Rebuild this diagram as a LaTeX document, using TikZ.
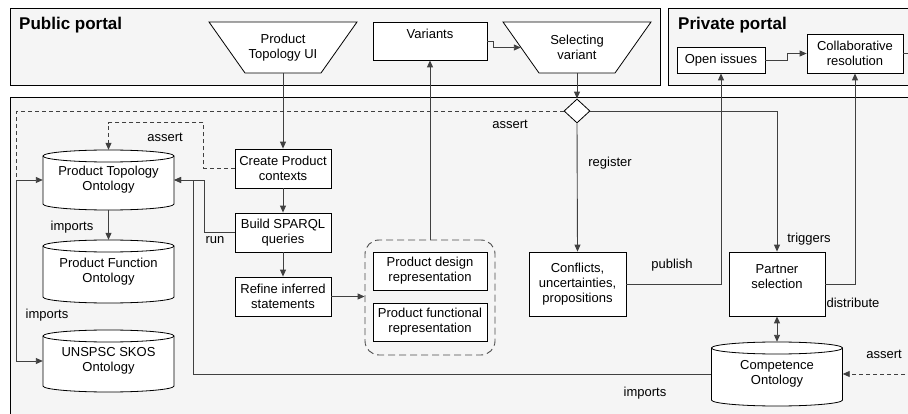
\documentclass[tikz,border=0pt]{standalone}
\usepackage{fontspec}
\setmainfont{Liberation Sans}
\usetikzlibrary{arrows.meta,shapes.geometric}

\tikzset{
  every node/.style={font=\fontsize{13}{15}\selectfont},
  portal/.style={draw=black, fill=black!4, line width=0.8pt},
  proc/.style={draw=black, fill=white, line width=0.8pt, align=center, inner sep=1pt},
  shapeline/.style={draw=black, fill=white, line width=0.8pt},
  shapetext/.style={align=center, inner sep=0pt, minimum width=148pt, minimum height=51pt},
  ontotext/.style={align=center, inner sep=0pt, minimum width=131pt},
  conn/.style={draw=black!75, line width=0.9pt},
  arr/.style={conn, -{Triangle[length=7pt,width=6pt]}},
  dashconn/.style={conn, dash pattern=on 4pt off 3pt},
  dasharr/.style={dashconn, -{Triangle[length=7pt,width=6pt]}},
  lbl/.style={inner sep=0pt},
  title/.style={anchor=west, inner sep=0pt, font=\bfseries\fontsize{17}{20}\selectfont},
}

% trapezoid UI step: name, x, y, text
\newcommand\trapnode[4]{%
  \filldraw[shapeline] (#2-74,#3-25.5) -- (#2+74,#3-25.5) -- (#2+38,#3+25.5) -- (#2-38,#3+25.5) -- cycle;
  \node[shapetext] (#1) at (#2,#3) {#4};
}
% ontology store: name, x, top, bottom, text
\newcommand\ontonode[5]{%
  \filldraw[shapeline] (#2-65.5,#3+6) -- (#2-65.5,#4-6)
    arc[start angle=180, end angle=360, x radius=65.5pt, y radius=6pt] -- (#2+65.5,#3+6)
    arc[start angle=0, end angle=180, x radius=65.5pt, y radius=6pt] -- cycle;
  \draw[shapeline, fill=none] (#2-65.5,#3+6) arc[start angle=180, end angle=360, x radius=65.5pt, y radius=6pt];
  \node[ontotext, minimum height=#4-#3] (#1) at (#2,{(#3+#4)/2}) {#5};
}

\begin{document}
\begin{tikzpicture}[x=1pt, y=-1pt]
  \useasboundingbox (0,0) rectangle (908,414);
  \clip (0,0) rectangle (908,414);

  % portals and the back end
  \draw[portal] (10,8) rectangle (660,85);
  \draw[portal] (668,8) rectangle (920,85);
  \draw[portal] (10,97) rectangle (920,420);
  \node[title] (pubttl) at (19,25) {Public portal};
  \node[title] (privttl) at (678,25) {Private portal};

  % public portal
  \trapnode{ui}{283}{47.5}{Product\\Topology UI}
  \trapnode{sel}{577}{47.5}{Selecting\\variant}
  \node[proc, minimum width=114pt, minimum height=38pt] (var) at (430,41) {Variants\\~};

  % private portal
  \node[proc, minimum width=88pt, minimum height=26pt] (open) at (721,60) {Open issues};
  \node[proc, minimum width=96pt, minimum height=39pt] (col) at (855,53.5) {Collaborative\\resolution};

  % processing steps
  \node[proc, minimum width=96pt, minimum height=39pt] (cpc) at (283,168.5) {Create Product\\contexts};
  \node[proc, minimum width=96pt, minimum height=39pt] (bsq) at (283,232.5) {Build SPARQL\\queries};
  \node[proc, minimum width=96pt, minimum height=39pt] (ref) at (283,296.5) {Refine inferred\\statements};

  % representations
  \node[draw=black!70, dash pattern=on 7pt off 4pt, rounded corners=14pt, line width=0.9pt,
        minimum width=130pt, minimum height=115pt] (grp) at (430,297.5) {};
  \node[proc, minimum width=114pt, minimum height=38pt] (pdr) at (430,271) {Product design\\representation};
  \node[proc, minimum width=114pt, minimum height=38pt] (pfr) at (430,322) {Product functional\\representation};

  \node[proc, minimum width=97pt, minimum height=64pt] (conf) at (577.5,284) {Conflicts,\\uncertainties,\\propositions};
  \node[proc, minimum width=96pt, minimum height=64pt] (part) at (777,284) {Partner\\selection\\~};
  \node[shapeline, diamond, minimum width=26pt, minimum height=24pt, inner sep=0pt] (dia) at (577,111) {};

  % ontologies
  \ontonode{pto}{108.5}{150}{210}{Product Topology\\Ontology}
  \ontonode{pfo}{108.5}{240}{303}{Product Function\\Ontology}
  \ontonode{uns}{108.5}{330}{392}{UNSPSC SKOS\\Ontology}
  \ontonode{comp}{777}{342}{406}{Competence\\Ontology}

  \coordinate (extin) at (912,374);
  \coordinate (extout) at (912,53.5);

  % connectors
  \draw[arr] (ui.south) -- (cpc.north);
  \draw[arr] (cpc.south) -- (bsq.north);
  \draw[arr] (bsq.south) -- (ref.north);
  \draw[dasharr] (cpc.west) -- ++(-31,0) |- ([yshift=27pt]pto.north) -- (pto.north);
  \draw[arr] (bsq.west) -- ++(-30,0) |- (pto.east);
  \draw[arr] (comp.west) -| ([xshift=19pt]pto.east) -- (pto.east);
  \draw[dashconn] (dia.west) -| ([xshift=-26pt]pto.west);
  \draw[arr] ([xshift=-26pt]pto.west) -- (pto.west);
  \draw[arr] ([xshift=-26pt]pto.west) |- (uns.west);
  \draw[arr] (pto.south) -- (pfo.north);
  \draw[arr] (ref.east) -- (ref.east -| grp.west);
  \draw[arr] (grp.north) -- (var.south);
  \draw[arr] (var.east) -- ++(6,0) |- ([xshift=18pt]sel.west);
  \draw[arr] (sel.south) -- (dia.north);
  \draw[arr] (dia.south) -- (conf.north);
  \draw[arr] (dia.east) -| (part.north);
  \draw[arr] (conf.east) -| (open.south);
  \draw[arr] (part.east) -| (col.south);
  \draw[conn, {Triangle[length=7pt,width=6pt]}-{Triangle[length=7pt,width=6pt]}] (part.south) -- (comp.north);
  \draw[dasharr] (extin) -- (comp.east);
  \draw[arr] (open.east) -- ++(22,0) |- (col.west);
  \draw[conn] (col.east) -- (extout);

  % connector labels
  \node[lbl] (lassert1) at (165,137) {assert};
  \node[lbl] (lrun) at (215,240) {run};
  \node[lbl] (limp1) at (72,227) {imports};
  \node[lbl] (limp2) at (47,315) {imports};
  \node[lbl] (lassert2) at (510,124) {assert};
  \node[lbl] (lreg) at (610,163) {register};
  \node[lbl] (ltrig) at (809,239) {triggers};
  \node[lbl] (lpub) at (672,265) {publish};
  \node[lbl] (ldist) at (853,303) {distribute};
  \node[lbl] (limp3) at (645,393) {imports};
  \node[lbl] (lassert3) at (884,354) {assert};
\end{tikzpicture}
\end{document}
